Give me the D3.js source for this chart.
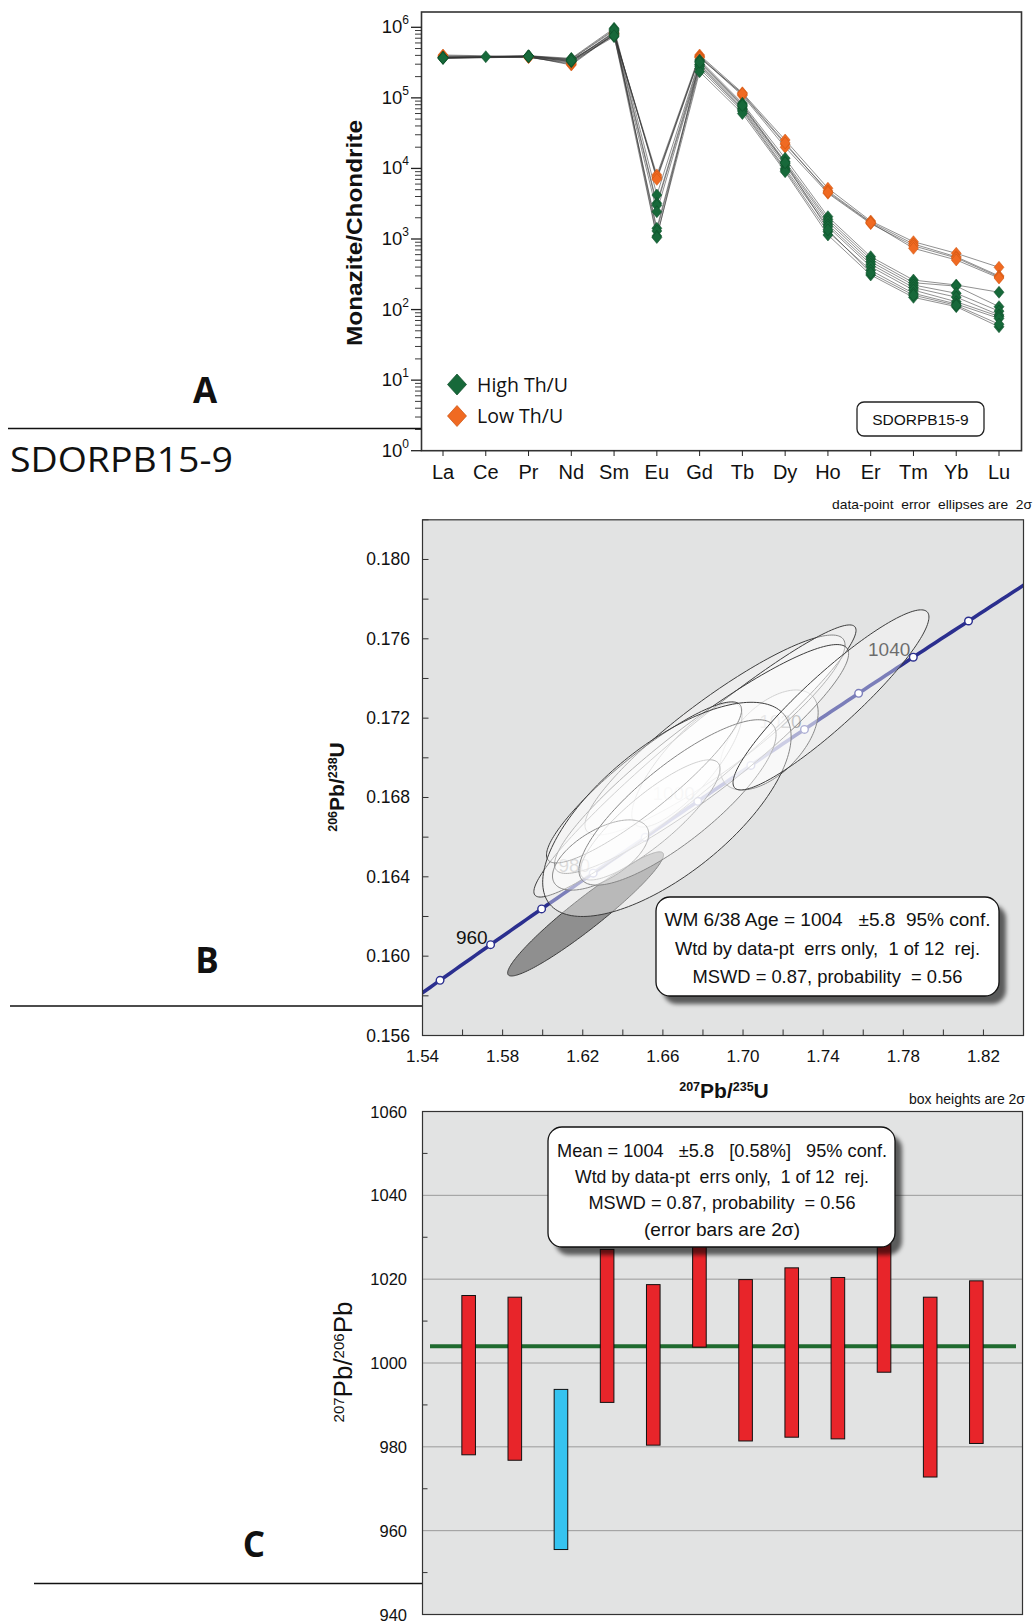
<!DOCTYPE html>
<html><head><meta charset="utf-8">
<script src="https://cdn.jsdelivr.net/npm/d3@7"></script>
<style>
body{margin:0;background:#fff}
svg{display:block}
text{font-family:"Liberation Sans",Arial,sans-serif;fill:#111}
.narrow{font-family:"Liberation Sans Narrow","Liberation Sans",Arial,sans-serif}
.open{font-family:"Open Sans","Noto Sans",sans-serif}
.pre{white-space:pre}
</style></head><body>
<svg id="fig" width="1036" height="1623"></svg>
<script>
// ---------- Panel A: chondrite-normalised REE patterns ----------
const elements = ["La","Ce","Pr","Nd","Sm","Eu","Gd","Tb","Dy","Ho","Er","Tm","Yb","Lu"];
const lowThU = [
  [405000,null,385000,292000,800000,8100,405000,118000,25300,5240,1800,916,627,397],
  [395000,null,380000,300000,820000,7300,390000,112000,22000,4800,1730,850,560,300],
  [385000,null,375000,310000,780000,7600,380000,108000,20000,4450,1650,800,540,290],
  [380000,null,372000,320000,850000,7000,370000,115000,23000,4600,1700,738,505,280]
];
const highThU = [
  [376000,383000,396000,363000,968000,4200,344000,84000,13900,2070,561,262,223,176],
  [372000,null,390000,350000,900000,3200,330000,80000,12500,1900,520,240,215,110],
  [368000,null,388000,340000,822000,3000,300000,75000,11800,1760,477,223,170,95],
  [365000,null,385000,326000,736000,2440,293000,71000,11000,1600,440,205,150,84],
  [370000,null,392000,345000,780000,1420,280000,68000,10000,1490,405,189,129,80],
  [360000,null,380000,330000,860000,1300,260000,65000,9500,1270,360,170,120,75],
  [374000,null,394000,355000,930000,1100,235000,60000,9000,1140,309,149,110,57],
  [366000,null,386000,335000,760000,1050,320000,78000,12000,1350,330,160,115,62]
];
const groupNames = ["High Th/U","Low Th/U"];
const decades = [0,1,2,3,4,5,6];

// ---------- Panel B: concordia, 2-sigma error ellipses ----------
// 207Pb/235U, 2s, 206Pb/238U, 2s, rho
const ellX   = [1.6214,1.7130,1.6860,1.6720,1.6760,1.6793,1.6536,1.6506,1.6289,1.6673,1.6620,1.7439];
const ellSx  = [0.0389,0.0245,0.0649,0.0275,0.0804,0.0734,0.0349,0.0487,0.0240,0.0492,0.0620,0.0489];
const ellY   = [0.16213,0.17090,0.17115,0.16964,0.16984,0.16994,0.16687,0.16876,0.16510,0.16775,0.16740,0.17292];
const ellSy  = [0.00313,0.00252,0.00504,0.00313,0.00686,0.00577,0.00303,0.00406,0.00177,0.00417,0.00540,0.00454];
const ellRho = [0.95,0.55,0.90,0.80,0.96,0.92,0.85,0.90,0.60,0.82,0.68,0.92];
const ellRejected = [true,false,false,false,false,false,false,false,false,false,false,false];
const markerAges = [950,960,970,980,990,1000,1010,1020,1030,1040,1050];
const labelAges = [960,980,1000,1020,1040];
const xTicksB = [1.54,1.58,1.62,1.66,1.70,1.74,1.78,1.82];
const yTicksB = [0.156,0.160,0.164,0.168,0.172,0.176,0.180];
const wmText = ["WM 6/38 Age = 1004   \u00b15.8  95% conf.","Wtd by data-pt  errs only,  1 of 12  rej.","MSWD = 0.87, probability  = 0.56"];

// ---------- Panel C: 207Pb/206Pb ages (2-sigma boxes) ----------
const barLow  = [978.1,976.8,955.5,990.6,980.4,1003.8,981.4,982.3,981.9,997.8,972.8,980.8];
const barHigh = [1016.1,1015.7,993.7,1027.1,1018.7,1040.5,1019.9,1022.7,1020.4,1035.5,1015.7,1019.6];
const barRejected = [false,false,true,false,false,false,false,false,false,false,false,false];
const meanAge = 1004;
const yTicksC = [940,960,980,1000,1020,1040,1060];
const meanText = ["Mean = 1004   \u00b15.8   [0.58%]   95% conf.","Wtd by data-pt  errs only,  1 of 12  rej.","MSWD = 0.87, probability  = 0.56","(error bars are 2\u03c3)"];

const svg = d3.select("#fig");
const defs = svg.append("defs");
defs.append("filter").attr("id","soft").attr("x","-10%").attr("y","-10%").attr("width","130%").attr("height","130%")
  .append("feGaussianBlur").attr("stdDeviation",2);

// ================= Panel A =================
const xA = d3.scalePoint().domain(elements).range([443,999]);
const yA = d3.scaleLog().domain([1,1e6]).range([450.7,27.3]);
const gA = svg.append("g");
gA.append("rect").attr("x",421.5).attr("y",12).attr("width",600).attr("height",438.7)
  .attr("fill","#fff").attr("stroke","#333").attr("stroke-width",1.6);

// log ticks, outward on the left
decades.forEach(k=>{
  const v = Math.pow(10,k);
  gA.append("line").attr("x1",421.5).attr("x2",411).attr("y1",yA(v)).attr("y2",yA(v)).attr("stroke","#222").attr("stroke-width",1.3);
  if(k<6) for(let m=2;m<=9;m++){
    const yy = yA(m*v);
    gA.append("line").attr("x1",421.5).attr("x2",415).attr("y1",yy).attr("y2",yy).attr("stroke","#222").attr("stroke-width",0.9);
  }
  const t = gA.append("text").attr("x",409).attr("y",yA(v)+6).attr("text-anchor","end").attr("font-size",18.5);
  t.append("tspan").text("10");
  t.append("tspan").attr("font-size",12).attr("dy",-9).text(k);
});
elements.forEach(e=>{
  gA.append("line").attr("x1",xA(e)).attr("x2",xA(e)).attr("y1",450.7).attr("y2",456).attr("stroke","#222");
  gA.append("text").attr("x",xA(e)).attr("y",479).attr("text-anchor","middle").attr("font-size",20).text(e);
});
gA.append("text").attr("transform","translate(362,233) rotate(-90)").attr("text-anchor","middle")
  .attr("font-size",21.5).attr("font-weight","bold").attr("textLength",226).attr("lengthAdjust","spacingAndGlyphs").text("Monazite/Chondrite");

const lineA = d3.line().x(d=>xA(d[0])).y(d=>yA(d[1]));
const toPts = s => s.map((v,i)=>[elements[i],v]).filter(d=>d[1]!=null);
[...highThU,...lowThU].forEach(s=>{
  gA.append("path").attr("d",lineA(toPts(s))).attr("fill","none").attr("stroke","#333").attr("stroke-width",0.9).attr("stroke-opacity",0.6);
});
const diamond = (x,y,w,h)=>`M${x},${y-h/2}L${x+w/2},${y}L${x},${y+h/2}L${x-w/2},${y}Z`;
const groups = [{data:lowThU,fill:"#f06a22",stroke:"#c9520f"},{data:highThU,fill:"#17693a",stroke:"#0d4a27"}];
groups.forEach(g=>{
  g.data.forEach(s=>toPts(s).forEach(d=>{
    gA.append("path").attr("d",diamond(xA(d[0]),yA(d[1]),10,12)).attr("fill",g.fill).attr("stroke",g.stroke).attr("stroke-width",0.5);
  }));
});
// legend
[["#17693a","#0d4a27"],["#f06a22","#c9520f"]].forEach((c,i)=>{
  const yy = 384.5+i*31.5;
  gA.append("path").attr("d",diamond(457,yy,19,21)).attr("fill",c[0]).attr("stroke",c[1]).attr("stroke-width",0.7);
  gA.append("text").attr("class","open").attr("x",477).attr("y",yy+7).attr("font-size",19.5).text(groupNames[i]);
});
gA.append("rect").attr("x",857).attr("y",402).attr("width",127).attr("height",34).attr("rx",7)
  .attr("fill","#fff").attr("stroke","#222").attr("stroke-width",1.3);
gA.append("text").attr("x",920.5).attr("y",425).attr("text-anchor","middle").attr("font-size",15.5).text("SDORPB15-9");

// ================= Left-hand captions =================
const capt = svg.append("g");
capt.append("text").attr("class","open").attr("x",205).attr("y",403).attr("text-anchor","middle").attr("font-size",35).attr("font-weight","bold").text("A");
capt.append("line").attr("x1",8).attr("x2",421).attr("y1",428.5).attr("y2",428.5).attr("stroke","#111").attr("stroke-width",1.6);
capt.append("text").attr("class","open").attr("x",10).attr("y",472).attr("font-size",35).attr("textLength",223).attr("lengthAdjust","spacingAndGlyphs").text("SDORPB15-9");
capt.append("text").attr("class","open").attr("x",207).attr("y",973).attr("text-anchor","middle").attr("font-size",35).attr("font-weight","bold").text("B");
capt.append("line").attr("x1",10).attr("x2",422).attr("y1",1006).attr("y2",1006).attr("stroke","#111").attr("stroke-width",1.6);
capt.append("text").attr("class","open").attr("x",254).attr("y",1557).attr("text-anchor","middle").attr("font-size",35).attr("font-weight","bold").text("C");
capt.append("line").attr("x1",34).attr("x2",422).attr("y1",1583.5).attr("y2",1583.5).attr("stroke","#111").attr("stroke-width",1.6);

// ================= Panel B =================
const xB = d3.scaleLinear().domain([1.54,1.84]).range([422.5,1023.5]);
const yB = d3.scaleLinear().domain([0.156,0.182]).range([1035.5,519.8]);
const gB = svg.append("g");
defs.append("clipPath").attr("id","clipB").append("rect")
  .attr("x",xB(1.54)).attr("y",yB(0.182)).attr("width",xB(1.84)-xB(1.54)).attr("height",yB(0.156)-yB(0.182));
gB.append("rect").attr("x",xB(1.54)).attr("y",yB(0.182)).attr("width",xB(1.84)-xB(1.54)).attr("height",yB(0.156)-yB(0.182))
  .attr("fill","#e2e3e3");
const plotB = gB.append("g").attr("clip-path","url(#clipB)");

// concordia from the 238U and 235U decay constants (per Myr)
const L238 = 1.55125e-4, L235 = 9.8485e-4;
const conc = t => [Math.exp(L235*t)-1, Math.exp(L238*t)-1];
const concLine = d3.line().x(d=>xB(d[0])).y(d=>yB(d[1]));
plotB.append("path").attr("d",concLine(d3.range(930,1071,1).map(conc)))
  .attr("fill","none").attr("stroke","#2b2f8f").attr("stroke-width",3.6);
markerAges.forEach(t=>{
  const p = conc(t);
  plotB.append("circle").attr("cx",xB(p[0])).attr("cy",yB(p[1])).attr("r",3.8)
    .attr("fill","#fff").attr("stroke","#2b2f8f").attr("stroke-width",1.4);
});
labelAges.forEach(t=>{
  const p = conc(t);
  plotB.append("text").attr("x",xB(p[0])-3).attr("y",yB(p[1])-1).attr("text-anchor","end")
    .attr("font-size",19).attr("fill","#111").text(t);
});
// error ellipses
const ellOrder = [0,1,2,3,4,5,6,7,8,9,10,11];
ellOrder.forEach(i=>{
  const s = Math.sqrt(1-ellRho[i]*ellRho[i]);
  const pts = d3.range(0,360,2).map(a=>{
    const t = a*Math.PI/180;
    return [xB(ellX[i]+ellSx[i]*Math.cos(t)), yB(ellY[i]+ellSy[i]*(ellRho[i]*Math.cos(t)+s*Math.sin(t)))];
  });
  plotB.append("path").attr("d",d3.line().curve(d3.curveLinearClosed)(pts))
    .attr("fill",ellRejected[i]?"#8a8a8a":"#ffffff").attr("fill-opacity",ellRejected[i]?0.95:0.38)
    .attr("stroke","#3d3d3d").attr("stroke-width",1);
});
gB.append("rect").attr("x",xB(1.54)).attr("y",yB(0.182)).attr("width",xB(1.84)-xB(1.54)).attr("height",yB(0.156)-yB(0.182))
  .attr("fill","none").attr("stroke","#333").attr("stroke-width",1.2);
d3.range(0.156,0.18201,0.002).forEach(v=>{
  gB.append("line").attr("x1",xB(1.54)).attr("x2",xB(1.54)+6).attr("y1",yB(v)).attr("y2",yB(v)).attr("stroke","#333");
});
d3.range(1.54,1.8401,0.02).forEach(v=>{
  gB.append("line").attr("x1",xB(v)).attr("x2",xB(v)).attr("y1",yB(0.156)).attr("y2",yB(0.156)-6).attr("stroke","#333");
});
yTicksB.forEach(v=>{
  gB.append("text").attr("class","narrow").attr("x",410).attr("y",yB(v)+6).attr("text-anchor","end").attr("font-size",17.5).text(d3.format(".3f")(v));
});
xTicksB.forEach(v=>{
  gB.append("text").attr("class","narrow").attr("x",xB(v)).attr("y",1062).attr("text-anchor","middle").attr("font-size",17).text(d3.format(".2f")(v));
});
gB.append("text").attr("class","narrow pre").attr("x",1032).attr("y",509).attr("text-anchor","end").attr("font-size",13.5).attr("textLength",200).attr("lengthAdjust","spacingAndGlyphs").text("data-point  error  ellipses are  2\u03c3");
// axis titles with superscript mass numbers
function isoLabel(g, parts, size, supSize, bold){
  const t = g.append("text").attr("text-anchor","middle").attr("font-weight",bold?"bold":"normal").attr("font-size",size);
  parts.forEach(p=>{
    const ts = t.append("tspan").text(p[1]);
    if(p[0]) ts.attr("font-size",supSize).attr("baseline-shift","super");
  });
  return t;
}
isoLabel(gB,[[1,"207"],[0,"Pb/"],[1,"235"],[0,"U"]],21,12.5,true).attr("x",724).attr("y",1098);
isoLabel(gB,[[1,"206"],[0,"Pb/"],[1,"238"],[0,"U"]],21,12.5,true).attr("transform","translate(344,787) rotate(-90)");
// statistics box
function statBox(g,x,y,w,h,lines,widths,baselines,cx,fs){
  g.append("rect").attr("x",x+7).attr("y",y+8).attr("width",w).attr("height",h).attr("rx",14)
    .attr("fill","#000").attr("fill-opacity",0.6).attr("filter","url(#soft)");
  g.append("rect").attr("x",x).attr("y",y).attr("width",w).attr("height",h).attr("rx",14)
    .attr("fill","#fff").attr("stroke","#111").attr("stroke-width",1.3);
  lines.forEach((l,i)=>{
    g.append("text").attr("class","narrow pre").attr("x",cx).attr("y",baselines[i]).attr("text-anchor","middle")
      .attr("font-size",fs).attr("textLength",widths[i]).attr("lengthAdjust","spacingAndGlyphs").text(l);
  });
}
statBox(gB,656,897,343,99,wmText,[326,305,270],[926,955,983],827.5,18.5);

// ================= Panel C =================
const xC = d3.scaleLinear().domain([0,13]).range([422.5,1022.5]);
const yC = d3.scaleLinear().domain([940,1060]).range([1614.5,1111.5]);
const gC = svg.append("g");
gC.append("rect").attr("x",xC(0)).attr("y",yC(1060)).attr("width",xC(13)-xC(0)).attr("height",yC(940)-yC(1060)).attr("fill","#e2e3e3");
[960,980,1000,1020,1040].forEach(v=>{
  gC.append("line").attr("x1",xC(0)).attr("x2",xC(13)).attr("y1",yC(v)).attr("y2",yC(v)).attr("stroke","#9a9a9a").attr("stroke-width",1);
});
[950,970,990,1010,1030,1050].forEach(v=>{
  gC.append("line").attr("x1",xC(0)).attr("x2",xC(0)+5).attr("y1",yC(v)).attr("y2",yC(v)).attr("stroke","#333");
});
gC.append("line").attr("x1",430).attr("x2",1016).attr("y1",yC(meanAge)).attr("y2",yC(meanAge)).attr("stroke","#1f6a2f").attr("stroke-width",4);
barLow.forEach((lo,i)=>{
  const cx = xC(i+1);
  gC.append("rect").attr("x",cx-6.8).attr("width",13.6).attr("y",yC(barHigh[i])).attr("height",yC(lo)-yC(barHigh[i]))
    .attr("fill",barRejected[i]?"#35c3f0":"#e8252a").attr("stroke","#111").attr("stroke-width",1);
});
gC.append("rect").attr("x",xC(0)).attr("y",yC(1060)).attr("width",xC(13)-xC(0)).attr("height",yC(940)-yC(1060))
  .attr("fill","none").attr("stroke","#333").attr("stroke-width",1.2);
yTicksC.forEach(v=>{
  gC.append("text").attr("class","narrow").attr("x",407).attr("y",yC(v)+6).attr("text-anchor","end").attr("font-size",16.5).text(v);
});
gC.append("text").attr("class","narrow pre").attr("x",1025).attr("y",1104).attr("text-anchor","end").attr("font-size",14).attr("textLength",116).attr("lengthAdjust","spacingAndGlyphs").text("box heights are 2\u03c3");
isoLabel(gC,[[1,"207"],[0,"Pb/"],[1,"206"],[0,"Pb"]],26,15,false).attr("transform","translate(352,1362) rotate(-90)");
statBox(gC,548,1127,347,120,meanText,[330,294,267,156],[1157,1183,1209,1236],722,18.5);
</script>
</body></html>
